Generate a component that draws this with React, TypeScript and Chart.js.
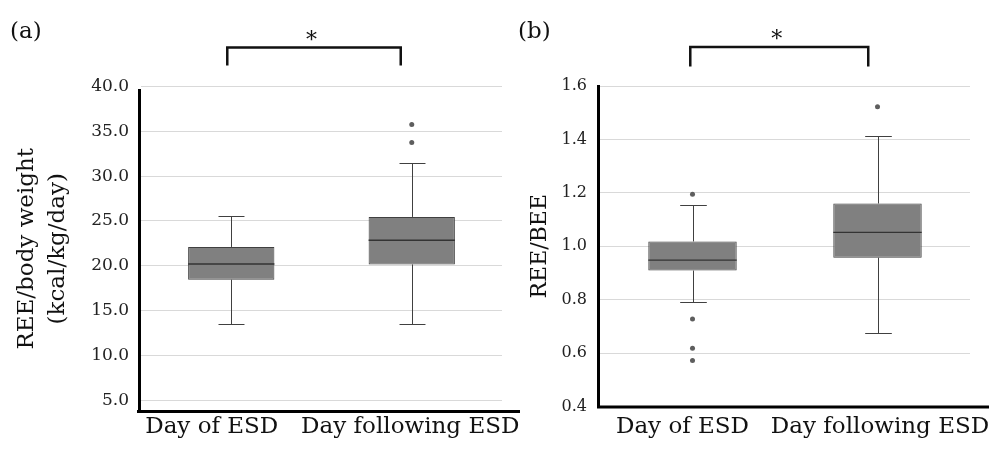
import React, { useEffect, useRef } from 'react';
import { Chart, registerables } from 'chart.js';

Chart.register(...registerables);

// ---------- data ----------
const categories = ['Day of ESD', 'Day following ESD'];

// (a) REE / body weight (kcal/kg/day)
const aWhiskerLow = [13.5, 13.5];
const aQ1 = [18.45, 20.15];
const aMedian = [20.2, 22.85];
const aQ3 = [22.1, 25.45];
const aWhiskerHigh = [25.6, 31.45];
const aOutliers = [[], [33.75, 35.75]];
const aTicks = [5, 10, 15, 20, 25, 30, 35, 40];
const aTitle = ['REE/body weight', '(kcal/kg/day)'];

// (b) REE / BEE
const bWhiskerLow = [0.79, 0.674];
const bQ1 = [0.909, 0.957];
const bMedian = [0.948, 1.052];
const bQ3 = [1.018, 1.16];
const bWhiskerHigh = [1.154, 1.414];
const bOutliers = [[1.195, 0.728, 0.618, 0.572], [1.522]];
const bTicks = [0.4, 0.6, 0.8, 1.0, 1.2, 1.4, 1.6];
const bTitle = 'REE/BEE';

const significance = '*';

// ---------- styling ----------
const FONT = "'DejaVu Serif', 'Liberation Serif', serif";
const BOX_FRAC = 0.478;
const CAP_FRAC = 0.144;

type PanelCfg = {
  left: number;
  width: number;
  min: number;
  max: number;
  ticks: number[];
  lo: number[];
  q1: number[];
  med: number[];
  q3: number[];
  hi: number[];
  outliers: number[][];
  title: string | string[];
  titleSize: number;
  titleLH: number;
  titlePad: number;
  tickSize: number;
  tickPad: number;
  area: { left: number; right: number; top: number; bottom: number };
  panelLabel: string;
  panelLabelX: number;
  xLabelOffsets: number[];
  bracket: [number, number];
  bracketLegDrop: number;
  axisExt: [number, number];
  yAxisTopOffset: number;
};

const panelA: PanelCfg = {
  left: 0,
  width: 530,
  min: 3.8,
  max: 40,
  ticks: aTicks,
  lo: aWhiskerLow,
  q1: aQ1,
  med: aMedian,
  q3: aQ3,
  hi: aWhiskerHigh,
  outliers: aOutliers,
  title: aTitle,
  titleSize: 23,
  titleLH: 1.35,
  titlePad: 11.5,
  tickSize: 17,
  tickPad: 12,
  area: { left: 141, right: 502, top: 86.5, bottom: 411 },
  panelLabel: '(a)',
  panelLabelX: 10,
  xLabelOffsets: [-19.5, -1.5],
  bracket: [-0.022, -0.061],
  bracketLegDrop: 18,
  axisExt: [4, 18],
  yAxisTopOffset: 2.5,
};

const panelB: PanelCfg = {
  left: 500,
  width: 495,
  min: 0.4,
  max: 1.6,
  ticks: bTicks,
  lo: bWhiskerLow,
  q1: bQ1,
  med: bMedian,
  q3: bQ3,
  hi: bWhiskerHigh,
  outliers: bOutliers,
  title: bTitle,
  titleSize: 22,
  titleLH: 1.2,
  titlePad: 27,
  tickSize: 16,
  tickPad: 13,
  area: { left: 100, right: 470, top: 86, bottom: 406.5 },
  panelLabel: '(b)',
  panelLabelX: 18,
  xLabelOffsets: [-10, 2.5],
  bracket: [-0.012, -0.05],
  bracketLegDrop: 19.5,
  axisExt: [2, 19],
  yAxisTopOffset: -1,
};

function makePlugin(p: PanelCfg) {
  return {
    id: 'boxExtras',
    beforeDatasetsDraw(chart: any) {
      const ctx = chart.ctx;
      const xs = chart.scales.x;
      const ys = chart.scales.y;
      const sp = xs.getPixelForValue(1) - xs.getPixelForValue(0);
      const cap = (sp * CAP_FRAC) / 2;
      ctx.save();
      ctx.strokeStyle = '#404040';
      ctx.lineWidth = 1;
      p.lo.forEach((_, i) => {
        const x = Math.round(xs.getPixelForValue(i)) + 0.5;
        const yHi = Math.round(ys.getPixelForValue(p.hi[i])) + 0.5;
        const yQ3 = ys.getPixelForValue(p.q3[i]);
        const yLo = Math.round(ys.getPixelForValue(p.lo[i])) + 0.5;
        const yQ1 = ys.getPixelForValue(p.q1[i]);
        ctx.beginPath();
        ctx.moveTo(x, yQ3);
        ctx.lineTo(x, yHi);
        ctx.moveTo(x - cap, yHi);
        ctx.lineTo(x + cap, yHi);
        ctx.moveTo(x, yQ1);
        ctx.lineTo(x, yLo);
        ctx.moveTo(x - cap, yLo);
        ctx.lineTo(x + cap, yLo);
        ctx.stroke();
      });
      ctx.restore();
    },
    afterDatasetsDraw(chart: any) {
      const ctx = chart.ctx;
      const xs = chart.scales.x;
      const ys = chart.scales.y;
      const sp = xs.getPixelForValue(1) - xs.getPixelForValue(0);
      const half = (sp * BOX_FRAC) / 2;
      ctx.save();
      ctx.strokeStyle = '#333333';
      ctx.lineWidth = 1.3;
      p.med.forEach((m, i) => {
        const x = xs.getPixelForValue(i);
        const y = ys.getPixelForValue(m);
        ctx.beginPath();
        ctx.moveTo(x - half, y);
        ctx.lineTo(x + half, y);
        ctx.stroke();
      });
      ctx.restore();
    },
    afterDraw(chart: any) {
      const ctx = chart.ctx;
      const xs = chart.scales.x;
      const area = chart.chartArea;
      ctx.save();
      // axis lines
      ctx.strokeStyle = '#000000';
      ctx.lineWidth = 3;
      ctx.beginPath();
      ctx.moveTo(area.left - 1.5, area.top + p.yAxisTopOffset);
      ctx.lineTo(area.left - 1.5, area.bottom + 2);
      ctx.moveTo(area.left - p.axisExt[0], area.bottom + 0.5);
      ctx.lineTo(area.right + p.axisExt[1], area.bottom + 0.5);
      ctx.stroke();

      // category labels
      ctx.fillStyle = '#111111';
      ctx.font = `23px ${FONT}`;
      ctx.textAlign = 'center';
      ctx.textBaseline = 'alphabetic';
      categories.forEach((c, i) => {
        ctx.fillText(c, xs.getPixelForValue(i) + p.xLabelOffsets[i], 433);
      });

      // significance bracket
      const bx0 = xs.getPixelForValue(0 + p.bracket[0]);
      const bx1 = xs.getPixelForValue(1 + p.bracket[1]);
      const by = area.top - 39;
      ctx.lineWidth = 2.5;
      ctx.strokeStyle = '#111111';
      ctx.lineJoin = 'miter';
      ctx.beginPath();
      ctx.moveTo(bx0, by + p.bracketLegDrop);
      ctx.lineTo(bx0, by);
      ctx.lineTo(bx1, by);
      ctx.lineTo(bx1, by + p.bracketLegDrop);
      ctx.stroke();
      ctx.font = `22px ${FONT}`;
      ctx.fillText(significance, (bx0 + bx1) / 2 - 2.5, by - 1);

      // panel label
      ctx.textAlign = 'left';
      ctx.font = `23px ${FONT}`;
      ctx.fillText(p.panelLabel, p.panelLabelX, 38);
      ctx.restore();
    },
  };
}

function Panel({ cfg }: { cfg: PanelCfg }) {
  const ref = useRef<HTMLCanvasElement | null>(null);
  useEffect(() => {
    if (!ref.current) return;
    const outlierPts: { x: string; y: number }[] = [];
    cfg.outliers.forEach((arr, i) => arr.forEach((v) => outlierPts.push({ x: categories[i], y: v })));
    const chart = new Chart(ref.current, {
      type: 'bar',
      data: {
        labels: categories,
        datasets: [
          {
            type: 'bar',
            data: cfg.q1.map((v, i) => [v, cfg.q3[i]]) as any,
            backgroundColor: '#808080',
            borderColor: '#404040',
            borderWidth: 1,
            borderSkipped: false,
            barPercentage: BOX_FRAC,
            categoryPercentage: 1,
          } as any,
          {
            type: 'scatter',
            data: outlierPts as any,
            pointRadius: 2.5,
            pointBackgroundColor: '#5e5e5e',
            pointBorderColor: '#5e5e5e',
            pointBorderWidth: 0,
            showLine: false,
            xAxisID: 'x',
            yAxisID: 'y',
          } as any,
        ],
      },
      options: {
        animation: false,
        responsive: false,
        devicePixelRatio: 1,
        events: [],
        layout: {
          padding: {
            left: 0,
            top: cfg.area.top,
            right: cfg.width - cfg.area.right,
            bottom: 450 - cfg.area.bottom,
          },
        },
        plugins: {
          legend: { display: false },
          tooltip: { enabled: false },
        },
        scales: {
          x: {
            type: 'category',
            display: false,
            offset: true,
            grid: { display: false },
          },
          y: {
            type: 'linear',
            min: cfg.min,
            max: cfg.max,
            afterBuildTicks: (s: any) => {
              s.ticks = cfg.ticks.map((v) => ({ value: v }));
            },
            afterFit: (s: any) => {
              s.width = cfg.area.left;
            },
            ticks: {
              callback: (v: any) => Number(v).toFixed(1),
              font: { family: FONT, size: cfg.tickSize },
              color: '#222222',
              padding: cfg.tickPad,
            },
            grid: { color: '#d9d9d9', lineWidth: 1, drawTicks: false },
            border: { display: false },
            title: {
              display: true,
              text: cfg.title,
              color: '#111111',
              font: { family: FONT, size: cfg.titleSize, lineHeight: cfg.titleLH },
              padding: { top: cfg.titlePad, bottom: 0 },
            },
          },
        },
      } as any,
      plugins: [makePlugin(cfg)],
    });
    return () => chart.destroy();
  }, [cfg]);
  return (
    <canvas
      ref={ref}
      width={cfg.width}
      height={450}
      style={{ position: 'absolute', left: cfg.left, top: 0, width: cfg.width, height: 450 }}
    />
  );
}

export default function App() {
  return (
    <div style={{ position: 'fixed', left: 0, top: 0, width: 995, height: 450, background: '#ffffff', overflow: 'hidden' }}>
      <Panel cfg={panelA} />
      <Panel cfg={panelB} />
    </div>
  );
}
